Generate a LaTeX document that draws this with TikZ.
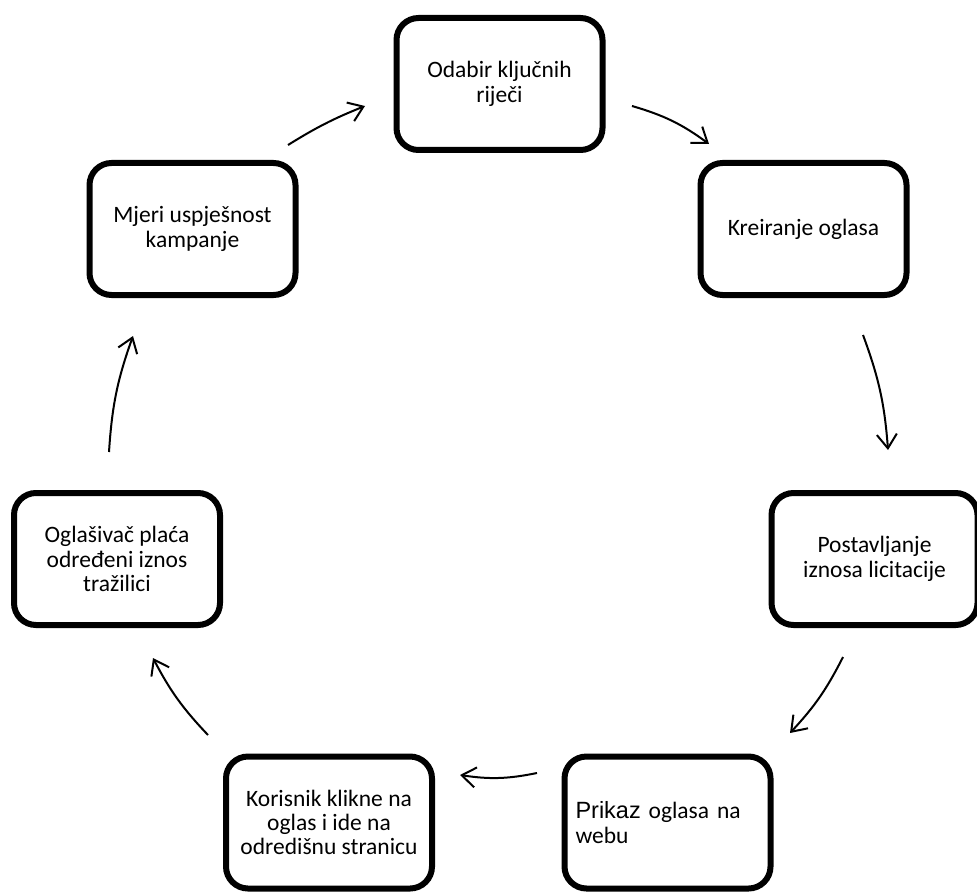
\documentclass[tikz,border=0pt]{standalone}
\usepackage{fontspec}
\setmainfont{Carlito}
\newfontfamily\arialfont{Liberation Sans}
\usetikzlibrary{arrows.meta}
\begin{document}
\begin{tikzpicture}[x=0.5pt,y=-0.5pt,
  stepbox/.style={draw, line width=3pt, rounded corners=11pt,
    minimum width=103pt, minimum height=66pt, inner sep=0pt,
    align=center, font=\fontsize{11.75}{12.2}\selectfont},
  flow/.style={-{Straight Barb[length=7pt,width=10pt]}, line width=1pt}]
\useasboundingbox (0,0) rectangle (977,893);

\node[stepbox] (odabir) at (499.5,84) {Odabir ključnih\\riječi};
\node[stepbox] (kreiranje) at (803.5,229) {Kreiranje oglasa};
\node[stepbox] (postavljanje) at (874.5,559) {Postavljanje\\iznosa licitacije};
\node[stepbox, align=left, text width=92pt] (prikaz) at (667.5,822.5)
  {{\arialfont Prikaz} oglasa na\\webu};
\node[stepbox] (korisnik) at (329,822.5) {Korisnik klikne na\\oglas i ide na\\odredišnu stranicu};
\node[stepbox] (oglasivac) at (117,559) {Oglašivač plaća\\određeni iznos\\tražilici};
\node[stepbox] (mjeri) at (192.5,229) {Mjeri uspješnost\\kampanje};

\coordinate (a1s) at (288,145); \coordinate (a1e) at (365,106);
\coordinate (a2s) at (632,106); \coordinate (a2e) at (709,144);
\coordinate (a3s) at (863,335); \coordinate (a3e) at (888,450);
\coordinate (a4s) at (843,657); \coordinate (a4e) at (790,733);
\coordinate (a5s) at (537,773); \coordinate (a5e) at (460,775);
\coordinate (a6s) at (208,735); \coordinate (a6e) at (153,658);
\coordinate (a7s) at (109,452); \coordinate (a7e) at (133,336);

\draw[flow] (a1s) to[bend left=5] (a1e);
\draw[flow] (a2s) to[bend left=10] (a2e);
\draw[flow] (a3s) to[bend left=8] (a3e);
\draw[flow] (a4s) to[bend left=8] (a4e);
\draw[flow] (a5s) to[bend left=10] (a5e);
\draw[flow] (a6s) to[bend left=8] (a6e);
\draw[flow] (a7s) to[bend left=8] (a7e);
\end{tikzpicture}
\end{document}
